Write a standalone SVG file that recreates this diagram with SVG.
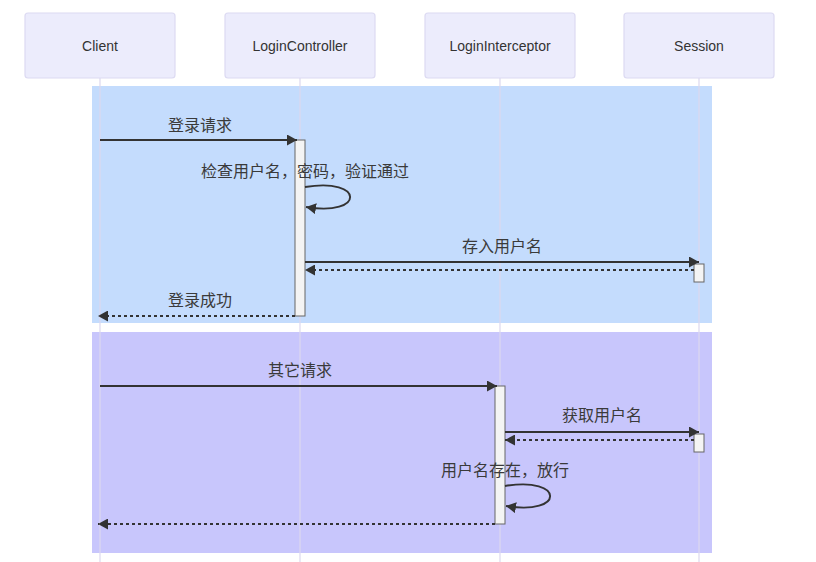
<svg xmlns="http://www.w3.org/2000/svg" width="816" height="562" viewBox="0 0 816 562">
<style>
.actor rect{fill:#ececfc;stroke:#dcdaf2;stroke-width:1.2}
.actor text{font-family:"Liberation Sans",Arial,sans-serif;font-size:14px;fill:#333;text-anchor:middle}
.life{stroke:#dcd8ef;stroke-width:1.2}
.msg{stroke:#333;stroke-width:1.9;fill:none}
.ret{stroke:#333;stroke-width:2;fill:none;stroke-dasharray:3,3}
.lbl{font-family:"Liberation Sans","Noto Sans CJK SC",sans-serif;font-size:16px;fill:#3a3a3a;text-anchor:middle}
.act{fill:#f4f4f4;stroke:#666;stroke-width:1}
</style>
<defs>
<marker id="ah" markerUnits="userSpaceOnUse" markerWidth="11" markerHeight="11" refX="10" refY="5.5" orient="auto">
<path d="M0,0 L10,5.5 L0,11 z" fill="#333"/>
</marker>
</defs>
<rect x="0" y="0" width="816" height="562" fill="#fff"/>
<g id="boxes">
<rect x="92" y="86" width="620" height="237" fill="#c4dcfd"/>
<rect x="92" y="332" width="620" height="221" fill="#c8c6fc"/>
</g>
<g id="lifelines">
<line class="life" x1="100" y1="78" x2="100" y2="562"/>
<line class="life" x1="300" y1="78" x2="300" y2="562"/>
<line class="life" x1="500" y1="78" x2="500" y2="562"/>
<line class="life" x1="699" y1="78" x2="699" y2="562"/>
</g>
<g id="Client" class="actor"><rect x="25" y="13" width="150" height="65" rx="3"/><text x="100" y="51">Client</text></g>
<g id="LoginController" class="actor"><rect x="225" y="13" width="150" height="65" rx="3"/><text x="300" y="51">LoginController</text></g>
<g id="LoginInterceptor" class="actor"><rect x="425" y="13" width="150" height="65" rx="3"/><text x="500" y="51">LoginInterceptor</text></g>
<g id="Session" class="actor"><rect x="624" y="13" width="150" height="65" rx="3"/><text x="699" y="51">Session</text></g>
<g id="activations">
<rect class="act" x="295" y="140" width="10" height="176"/>
<rect class="act" x="694" y="264" width="10" height="18"/>
<rect class="act" x="495" y="386" width="10" height="138"/>
<rect class="act" x="694" y="434" width="10" height="18"/>
</g>
<g id="connectors">
<line class="msg" x1="100" y1="140" x2="297" y2="140" marker-end="url(#ah)"/>
<path class="msg" d="M305,187 C365,177 365,217 306,207" marker-end="url(#ah)"/>
<line class="msg" x1="305" y1="262" x2="699" y2="262" marker-end="url(#ah)"/>
<line class="ret" x1="694" y1="270" x2="305" y2="270" marker-end="url(#ah)"/>
<line class="ret" x1="295" y1="316" x2="98" y2="316" marker-end="url(#ah)"/>
<line class="msg" x1="100" y1="386" x2="497" y2="386" marker-end="url(#ah)"/>
<line class="msg" x1="505" y1="432" x2="699" y2="432" marker-end="url(#ah)"/>
<line class="ret" x1="694" y1="440" x2="505" y2="440" marker-end="url(#ah)"/>
<path class="msg" d="M505,486 C565,476 565,516 506,506" marker-end="url(#ah)"/>
<line class="ret" x1="495" y1="524" x2="98" y2="524" marker-end="url(#ah)"/>
</g>
<g id="labels">
<text class="lbl" x="200" y="131">登录请求</text>
<text class="lbl" x="305" y="177">检查用户名，密码，验证通过</text>
<text class="lbl" x="502" y="252">存入用户名</text>
<text class="lbl" x="200" y="306">登录成功</text>
<text class="lbl" x="300" y="376">其它请求</text>
<text class="lbl" x="602" y="421">获取用户名</text>
<text class="lbl" x="505" y="476">用户名存在，放行</text>
</g>
</svg>
